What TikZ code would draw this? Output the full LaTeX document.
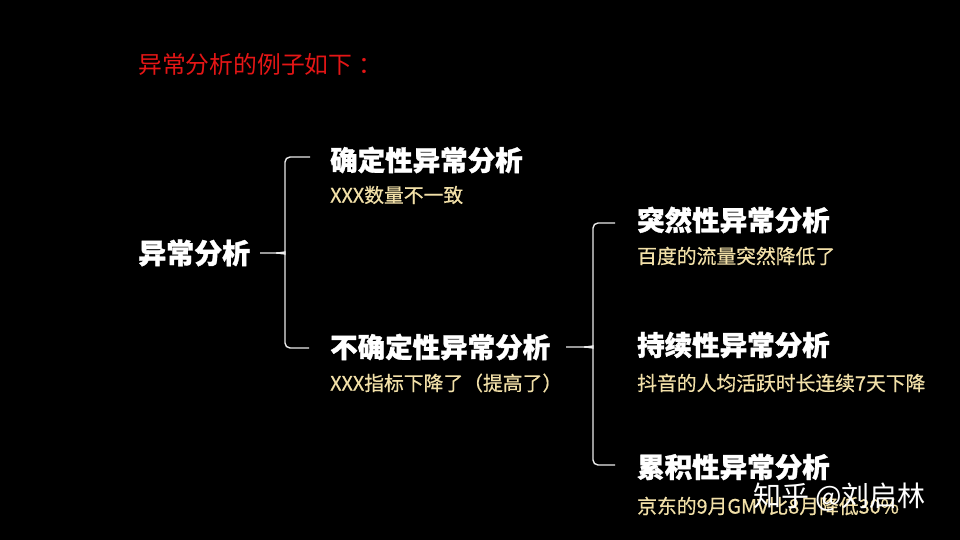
\documentclass[tikz,border=0pt]{standalone}
\usepackage{fontspec}
\newfontfamily\cjk{Noto Sans CJK SC}
\newfontfamily\cjkhead{Noto Sans CJK SC}[BoldFeatures={FakeBold=1.2}]
\newfontfamily\cjksub{Noto Sans CJK SC}[FakeBold=0.5]
\definecolor{titlered}{RGB}{228,22,22}
\definecolor{subgold}{RGB}{242,224,168}
\definecolor{bracegray}{RGB}{235,235,235}
\tikzset{
  head/.style={anchor=west,inner sep=0pt,text=white,font=\cjkhead\bfseries\fontsize{27.5pt}{30pt}\selectfont},
  sub/.style={anchor=west,inner sep=0pt,text=subgold,font=\cjksub\fontsize{19.8pt}{22pt}\selectfont},
  bracel/.style={draw=bracegray,line width=1.4pt,rounded corners=5pt},
}
\begin{document}
\begin{tikzpicture}[x=1pt,y=-1pt]
\fill[black] (0,0) rectangle (960,540);
\useasboundingbox (0,0) rectangle (960,540);
% title
\node[anchor=west,inner sep=0pt,text=titlered,font=\cjk\fontsize{23.8pt}{26pt}\selectfont] (title) at (138,64) {异常分析的例子如下\hspace{6pt}：};
% root
\node[head,font=\cjkhead\bfseries\fontsize{28pt}{30pt}\selectfont] (root) at (138,253) {异常分析};
% level 1
\node[head] (c1) at (330,160) {确定性异常分析};
\node[sub] (c1s) at (330,195) {XXX数量不一致};
\node[head] (c2) at (330,347) {不确定性异常分析};
\node[sub] (c2s) at (330,383) {XXX指标下降了（提高了）};
% level 2
\node[head] (d1) at (637,220) {突然性异常分析};
\node[sub] (d1s) at (637,256) {百度的流量突然降低了};
\node[head] (d2) at (637,345) {持续性异常分析};
\node[sub] (d2s) at (637,383) {抖音的人均活跃时长连续7天下降};
\node[head] (d3) at (637,467) {累积性异常分析};
\node[sub] (d3s) at (637,506) {京东的9月GMV比8月降低30\%};
% brace 1
\coordinate (b1tip) at (260,253);
\coordinate (b1top) at (310,157);
\coordinate (b1bot) at (309,348);
\draw[bracel] (b1top) -- (285,157) -- (285,248) [sharp corners] .. controls (285,251) and (282,253) .. (276,253) -- (b1tip);
\draw[bracel] (b1bot) -- (285,348) -- (285,258) [sharp corners] .. controls (285,255) and (282,253) .. (276,253);
% brace 2
\coordinate (b2tip) at (566,347);
\coordinate (b2top) at (615,223);
\coordinate (b2bot) at (615,465);
\draw[bracel] (b2top) -- (593,223) -- (593,342) [sharp corners] .. controls (593,345) and (590,347) .. (584,347) -- (b2tip);
\draw[bracel] (b2bot) -- (593,465) -- (593,352) [sharp corners] .. controls (593,349) and (590,347) .. (584,347);
% watermark
\node[anchor=west,inner sep=0pt,text=white,font=\cjk\fontsize{28pt}{30pt}\selectfont] (wm) at (753,497) {知乎 @刘启林};
\end{tikzpicture}
\end{document}
